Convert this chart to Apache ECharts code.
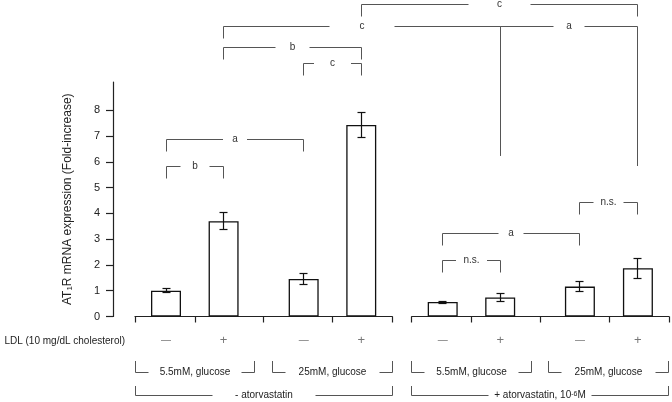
<!DOCTYPE html>
<html><head><meta charset="utf-8">
<script src="https://cdn.jsdelivr.net/npm/echarts@6/dist/echarts.min.js"></script>
<style>html,body{margin:0;padding:0;background:#fff}#c{width:672px;height:402px}</style>
</head><body><div id="c"></div>
<script>
// ---------- data ----------
const barPositions = [1, 2, 3.39, 4.39, 5.804, 6.802, 8.186, 9.193];
const ldlSigns = ['−', '+', '−', '+', '−', '+', '−', '+'];
const means = [1.00, 3.70, 1.46, 7.43, 0.56, 0.74, 1.16, 1.87];
const sems = [0.07, 0.34, 0.20, 0.48, 0.04, 0.17, 0.18, 0.38];
const yTicks = [0, 1, 2, 3, 4, 5, 6, 7, 8];
const yTitle = 'AT{s|1}R mRNA expression (Fold-increase)';
const ldlTitle = 'LDL (10 mg/dL cholesterol)';
// [label, first bar, last bar]
const glucoseGroups = [['5.5mM, glucose', 0, 1], ['25mM, glucose', 2, 3], ['5.5mM, glucose', 4, 5], ['25mM, glucose', 6, 7]];
const treatGroups = [['- atorvastatin', 0, 3], ['+ atorvastatin, 10{sup|-6}M', 4, 7]];
// significance brackets: [from bar, to bar, level, label, left leg end, right leg end]
const sigBrackets = [
  [3, 7, 12.115, 'c', null, null],
  [1, 5, 11.27, 'c', null, 6.23],
  [5, 7, 11.27, 'a', null, 5.84],
  [1, 3, 10.43, 'b', null, null],
  [2, 3, 9.825, 'c', null, null],
  [0, 2, 6.85, 'a', null, null],
  [0, 1, 5.84, 'b', null, null],
  [6, 7, 4.43, 'n.s.', null, null],
  [4, 6, 3.23, 'a', null, null],
  [4, 5, 2.165, 'n.s.', null, null]
];
// ---------- styles ----------
const sigGaps = [62, 65, 31, 34, 37, 24, 29, 30, 25, 31];
const FONT = '"Liberation Sans", Arial, sans-serif';
const PLOT_LEFT = 135, UNIT = 57.6, SIDE = 31, TOP = 82, HEIGHT = 234.5, YMAX = 9.1;
const LEG = 12;
const AX = '#222', BR = '#555';

const m = SIDE / UNIT;
const x0min = barPositions[0] - m;
const x0max = barPositions[7] + m + 0.025;
const leftMin = barPositions[0] - m, leftMax = barPositions[3] + m;
const rightMin = barPositions[4] - m, rightMax = barPositions[7] + m;
function bounds(lo, hi, pos) {
  const v = [lo];
  for (let i = 0; i < pos.length - 1; i++) v.push((pos[i] + pos[i + 1]) / 2);
  v.push(hi);
  return v;
}
const crisp = v => Math.round(v - 0.5) + 0.5;

function signFormatter(val) {
  let best = 0, d = 1e9;
  barPositions.forEach((p, i) => { if (Math.abs(p - val) < d) { d = Math.abs(p - val); best = i; } });
  return ldlSigns[best] === '+' ? '{p|+}' : '{m|—}';
}
const signRich = {
  p: { fontSize: 13, color: '#777', fontFamily: FONT, lineHeight: 14 },
  m: { fontSize: 10, color: '#777', fontFamily: FONT, lineHeight: 14 }
};
function bottomAxis(grid, lo, hi, pos) {
  return {
    type: 'value', gridIndex: grid, min: lo, max: hi,
    axisLine: { show: true, onZero: false, lineStyle: { color: AX, width: 1.2 } },
    axisTick: { show: true, customValues: bounds(lo, hi, pos), length: 6, lineStyle: { color: AX, width: 1.2 } },
    axisLabel: { show: true, customValues: pos, formatter: signFormatter, margin: 17, rich: signRich },
    splitLine: { show: false }
  };
}

const lineStyle = { stroke: BR, lineWidth: 1 };
function seg(x1, y1, x2, y2) {
  return { type: 'line', shape: { x1: x1, y1: y1, x2: x2, y2: y2 }, style: lineStyle };
}

function renderSig(params, api) {
  const b = sigBrackets[params.dataIndex];
  const p1 = api.coord([barPositions[b[0]], b[2]]);
  const p2 = api.coord([barPositions[b[1]], b[2]]);
  const y = crisp(p1[1]);
  const x1 = crisp(p1[0]), x2 = crisp(p2[0]);
  const yl = b[4] == null ? y + LEG : api.coord([0, b[4]])[1];
  const yr = b[5] == null ? y + LEG : api.coord([0, b[5]])[1];
  const mid = (x1 + x2) / 2, g = sigGaps[params.dataIndex] / 2;
  return { type: 'group', children: [
    seg(x1, y, mid - g, y), seg(mid + g, y, x2, y),
    seg(x1, y, x1, yl), seg(x2, y, x2, yr),
    { type: 'text', style: { text: b[3], x: mid, y: y, align: 'center', verticalAlign: 'middle', fill: '#333', fontSize: 10, fontFamily: FONT } }
  ] };
}

function renderErr(params, api) {
  const x = api.coord([api.value(0), 0])[0];
  const lo = api.coord([api.value(0), api.value(1)])[1];
  const hi = api.coord([api.value(0), api.value(2)])[1];
  const s = { stroke: '#111', lineWidth: 1.2 };
  const xc = crisp(x);
  return { type: 'group', children: [
    { type: 'line', shape: { x1: xc, y1: hi, x2: xc, y2: lo }, style: s },
    { type: 'line', shape: { x1: xc - 4, y1: crisp(hi), x2: xc + 4, y2: crisp(hi) }, style: s },
    { type: 'line', shape: { x1: xc - 4, y1: crisp(lo), x2: xc + 4, y2: crisp(lo) }, style: s }
  ] };
}

const groupItems = [];
glucoseGroups.forEach(g => groupItems.push({ label: g[0], a: g[1], b: g[2], top: 44.5, base: 56, side: 13 }));
treatGroups.forEach(g => groupItems.push({ label: g[0], a: g[1], b: g[2], top: 69.5, base: 78.5, side: 77 }));

function renderGroup(params, api) {
  const it = groupItems[params.dataIndex];
  const zeroY = api.coord([barPositions[0], 0])[1];
  const xa = crisp(api.coord([barPositions[it.a], 0])[0] - SIDE);
  const xb = crisp(api.coord([barPositions[it.b], 0])[0] + SIDE);
  const yb = crisp(zeroY + it.base), yt = zeroY + it.top;
  return { type: 'group', children: [
    seg(xa, yt, xa, yb), seg(xb, yt, xb, yb),
    seg(xa, yb, xa + it.side, yb), seg(xb - it.side, yb, xb, yb),
    { type: 'text', style: { text: it.label, x: (xa + xb) / 2, y: yb, align: 'center', verticalAlign: 'middle', fill: '#222', fontSize: 10, fontFamily: FONT,
      rich: { sup: { fontSize: 7, verticalAlign: 'top', fill: '#222', fontFamily: FONT, lineHeight: 10 } } } }
  ] };
}

const chart = echarts.init(document.getElementById('c'));
chart.setOption({
  animation: false,
  backgroundColor: '#fff',
  grid: [
    { left: PLOT_LEFT, top: TOP, width: (x0max - x0min) * UNIT, height: HEIGHT },
    { left: PLOT_LEFT, top: TOP, width: (leftMax - leftMin) * UNIT, height: HEIGHT },
    { left: PLOT_LEFT + (rightMin - x0min) * UNIT, top: TOP, width: (rightMax - rightMin) * UNIT, height: HEIGHT }
  ],
  xAxis: [
    { type: 'value', gridIndex: 0, min: x0min, max: x0max, show: false },
    bottomAxis(1, leftMin, leftMax, barPositions.slice(0, 4)),
    bottomAxis(2, rightMin, rightMax, barPositions.slice(4))
  ],
  yAxis: [
    { type: 'value', gridIndex: 0, min: 0, max: YMAX, position: 'left', offset: 22,
      axisLine: { show: true, lineStyle: { color: AX, width: 1.2 } },
      axisTick: { show: true, customValues: yTicks, length: 7, lineStyle: { color: AX, width: 1.2 } },
      axisLabel: { customValues: yTicks, fontSize: 11, color: '#222', fontFamily: FONT, margin: 13 },
      splitLine: { show: false },
      name: yTitle, nameLocation: 'middle', nameGap: 39, nameRotate: 90,
      nameTextStyle: { fontSize: 12, color: '#222', fontFamily: FONT,
        rich: { s: { fontSize: 8, verticalAlign: 'bottom', color: '#222', fontFamily: FONT } } } },
    { type: 'value', gridIndex: 1, min: 0, max: YMAX, show: false },
    { type: 'value', gridIndex: 2, min: 0, max: YMAX, show: false }
  ],
  graphic: [
    { type: 'text', left: null, x: 125, y: 341, style: { text: ldlTitle, align: 'right', verticalAlign: 'middle', fontSize: 10, fill: '#222', fontFamily: FONT } }
  ],
  series: [
    { type: 'bar', xAxisIndex: 0, yAxisIndex: 0, barWidth: 30, silent: true,
      data: barPositions.map((p, i) => [p, means[i]]),
      itemStyle: { color: '#fff', borderColor: '#111', borderWidth: 1.3 } },
    { type: 'custom', xAxisIndex: 0, yAxisIndex: 0, silent: true, renderItem: renderErr,
      data: barPositions.map((p, i) => [p, means[i] - sems[i], means[i] + sems[i]]), encode: { x: 0, y: [1, 2] }, z: 3 },
    { type: 'custom', xAxisIndex: 0, yAxisIndex: 0, silent: true, renderItem: renderSig, clip: false,
      data: sigBrackets.map(b => [barPositions[b[0]], b[2]]), encode: { x: 0, y: 1 }, z: 4 },
    { type: 'custom', xAxisIndex: 0, yAxisIndex: 0, silent: true, renderItem: renderGroup, clip: false,
      data: groupItems.map(it => [barPositions[it.a], 0]), encode: { x: 0, y: 1 }, z: 4 }
  ]
});
</script></body></html>
